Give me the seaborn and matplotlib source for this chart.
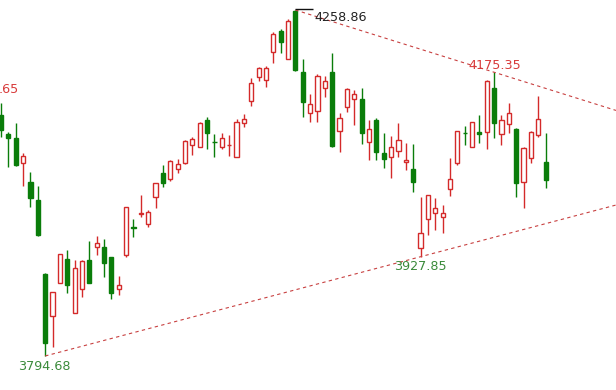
import numpy as np
import pandas as pd
import matplotlib
matplotlib.use("Agg")
import matplotlib.pyplot as plt
import seaborn as sns

# ---------------- data ----------------
opens = [4118.0, 4092.5, 4087.1, 4053.6, 4028.1, 4004.0, 3904.6, 3848.3, 3892.6, 3924.8,
         3852.4, 3884.5, 3923.4, 3940.9, 3940.9, 3927.5, 3884.5, 3930.2, 3967.7, 3985.2,
         3971.8, 4008.0, 4040.2, 4032.1, 4045.5, 4053.6, 4077.7, 4075.1, 4111.3, 4081.8,
         4075.1, 4077.1, 4061.6, 4107.3, 4136.8, 4169.0, 4164.9, 4202.5, 4230.7, 4193.2,
         4257.5, 4175.7, 4120.7, 4123.4, 4154.2, 4175.7, 4096.5, 4128.7, 4139.5, 4139.5,
         4081.8, 4111.3, 4067.0, 4061.6, 4069.7, 4054.9, 4045.5, 3939.6, 3978.5, 3986.5,
         3981.2, 4018.7, 4053.6, 4093.9, 4075.1, 4095.2, 4095.2, 4154.2, 4092.5, 4105.9,
         4099.2, 4028.1, 4060.3, 4091.2, 4054.9]
highs = [4134.1, 4095.2, 4107.3, 4067.0, 4041.5, 4022.7, 3906.0, 3881.0, 3931.5, 3936.9,
         3923.4, 3923.4, 3948.9, 3955.7, 3951.6, 3928.0, 3902.0, 3995.0, 3978.5, 4010.7,
         3990.5, 4026.8, 4050.9, 4057.6, 4059.0, 4084.4, 4088.5, 4108.6, 4115.3, 4092.5,
         4093.9, 4091.2, 4112.6, 4119.3, 4167.6, 4182.4, 4183.7, 4229.4, 4233.4, 4246.8,
         4258.86, 4193.2, 4146.2, 4173.0, 4170.3, 4201.2, 4120.7, 4154.2, 4151.5, 4154.2,
         4111.3, 4114.0, 4093.9, 4089.8, 4107.3, 4080.4, 4079.1, 4008.0, 4010.7, 4006.7,
         3997.2, 4060.3, 4096.8, 4103.2, 4108.9, 4118.0, 4164.9, 4175.35, 4118.0, 4134.1,
         4100.6, 4075.1, 4096.5, 4143.5, 4093.9]
lows = [4088.5, 4048.2, 4050.0, 4022.7, 3994.6, 3955.7, 3794.68, 3806.7, 3892.0, 3879.2,
        3852.0, 3873.8, 3892.0, 3930.2, 3900.6, 3871.1, 3876.5, 3927.5, 3954.3, 3981.2,
        3967.7, 3993.2, 4021.4, 4029.4, 4040.2, 4052.3, 4064.3, 4074.5, 4072.4, 4061.6,
        4072.4, 4063.0, 4061.0, 4101.9, 4130.1, 4163.6, 4155.6, 4187.8, 4201.2, 4192.5,
        4177.5, 4115.3, 4108.6, 4108.6, 4142.1, 4075.1, 4068.4, 4122.0, 4104.6, 4079.1,
        4057.6, 4057.6, 4046.9, 4033.5, 4061.6, 4044.2, 4014.7, 3927.85, 3957.0, 3963.7,
        3959.7, 4009.3, 4050.9, 4077.7, 4074.5, 4080.4, 4072.4, 4087.1, 4077.7, 4093.9,
        4008.0, 3993.2, 4053.6, 4088.5, 4020.1]
closes = [4097.9, 4087.1, 4050.9, 4063.0, 4006.7, 3957.0, 3812.1, 3880.5, 3931.0, 3889.9,
          3912.7, 3922.1, 3892.6, 3946.3, 3919.4, 3879.2, 3889.9, 3994.6, 3966.4, 3986.5,
          3987.9, 4026.5, 4026.8, 4056.3, 4052.3, 4083.1, 4085.8, 4107.3, 4093.9, 4081.1,
          4087.1, 4077.7, 4108.6, 4112.6, 4160.9, 4181.1, 4181.1, 4226.7, 4215.9, 4244.1,
          4178.4, 4135.4, 4132.8, 4170.3, 4163.6, 4076.4, 4114.0, 4152.9, 4146.2, 4093.9,
          4099.2, 4068.4, 4059.0, 4075.1, 4084.4, 4057.6, 4028.1, 3959.7, 4010.4, 3993.2,
          3986.5, 4032.1, 4096.5, 4093.2, 4108.6, 4092.5, 4163.6, 4107.3, 4111.3, 4120.7,
          4026.8, 4073.7, 4095.2, 4112.6, 4030.8]

# pivot candles (indices) used for annotations / trend lines
peak_idx = 40           # 4258.86
second_peak_idx = 67    # 4175.35
trough_idx = 6          # 3794.68
second_trough_idx = 57  # 3927.85
prev_label = ".65"      # tail of an earlier high's label, visible at the left edge

# ---------------- styling ----------------
RED = "#d42a2a"
GREEN = "#0a7d0a"
RED_TXT = "#d83a3a"
GREEN_TXT = "#3a8a3a"
LINE_RED = "#c84040"

sns.set_theme(style="white")
plt.rcParams["font.family"] = ["DejaVu Sans"]

df = pd.DataFrame({"open": opens, "high": highs, "low": lows, "close": closes})
df["idx"] = np.arange(len(df))
df["up"] = df["close"] >= df["open"]

fig = plt.figure(figsize=(6.16, 3.90), dpi=100)
ax = fig.add_axes([0, 0, 1, 1])
ax.set_facecolor("white")

# wicks
for up, color in [(True, RED), (False, GREEN)]:
    sub = df[df["up"] == up]
    ax.vlines(sub["idx"], sub["low"], sub["high"], color=color, linewidth=1.0, zorder=1)

# bodies
w = 0.56
up = df[df["up"]]
dn = df[~df["up"]]
ax.bar(up["idx"], up["close"] - up["open"], bottom=up["open"], width=w,
       facecolor="white", edgecolor=RED, linewidth=1.0, zorder=2)
ax.bar(dn["idx"], dn["open"] - dn["close"], bottom=dn["close"], width=w,
       facecolor=GREEN, edgecolor=GREEN, linewidth=1.0, zorder=2)

# axes limits
x_left, x_right = -0.136, 83.56
ax.set_xlim(x_left, x_right)
ax.set_ylim(3749.05, 4272.28)
ax.set_axis_off()

# trend lines through pivots, extended to right edge
def trend(i0, v0, i1, v1):
    slope = (v1 - v0) / (i1 - i0)
    xs = np.array([i0, x_right])
    ys = v0 + slope * (xs - i0)
    return pd.DataFrame({"x": xs, "y": ys})

upper = trend(peak_idx, highs[peak_idx], second_peak_idx, highs[second_peak_idx])
lower = trend(trough_idx, lows[trough_idx], second_trough_idx, lows[second_trough_idx])
for t in (upper, lower):
    sns.lineplot(data=t, x="x", y="y", ax=ax, color=LINE_RED, linewidth=0.8,
                 dashes=False, zorder=3, legend=False)
for l in ax.lines:
    l.set_dashes((3, 3))

# black leader at the top
ax.hlines(highs[peak_idx] + 0.8, peak_idx, peak_idx + 2.45, color="#111111",
          linewidth=1.0, zorder=4)

fs = 9.2
ax.annotate(f"{highs[peak_idx]:.2f}", xy=(peak_idx, highs[peak_idx]), xytext=(19, -11),
            textcoords="offset pixels", ha="left", va="baseline", color="#222222", fontsize=fs)
ax.annotate(f"{highs[second_peak_idx]:.2f}", xy=(second_peak_idx, highs[second_peak_idx]),
            xytext=(-26, 3), textcoords="offset pixels", ha="left", va="baseline",
            color=RED_TXT, fontsize=fs)
ax.annotate(f"{lows[second_trough_idx]:.2f}", xy=(second_trough_idx, lows[second_trough_idx]),
            xytext=(-26, -13), textcoords="offset pixels", ha="left", va="baseline",
            color=GREEN_TXT, fontsize=fs)
ax.annotate(f"{lows[trough_idx]:.2f}", xy=(trough_idx, lows[trough_idx]),
            xytext=(-27, -14), textcoords="offset pixels", ha="left", va="baseline",
            color=GREEN_TXT, fontsize=fs)
ax.annotate(prev_label, xy=(0, 4147.5), xycoords=("axes fraction", "data"),
            xytext=(-1, 0), textcoords="offset pixels", ha="left", va="baseline",
            color=RED_TXT, fontsize=fs)

fig.savefig("out.png", dpi=100, facecolor="white")
